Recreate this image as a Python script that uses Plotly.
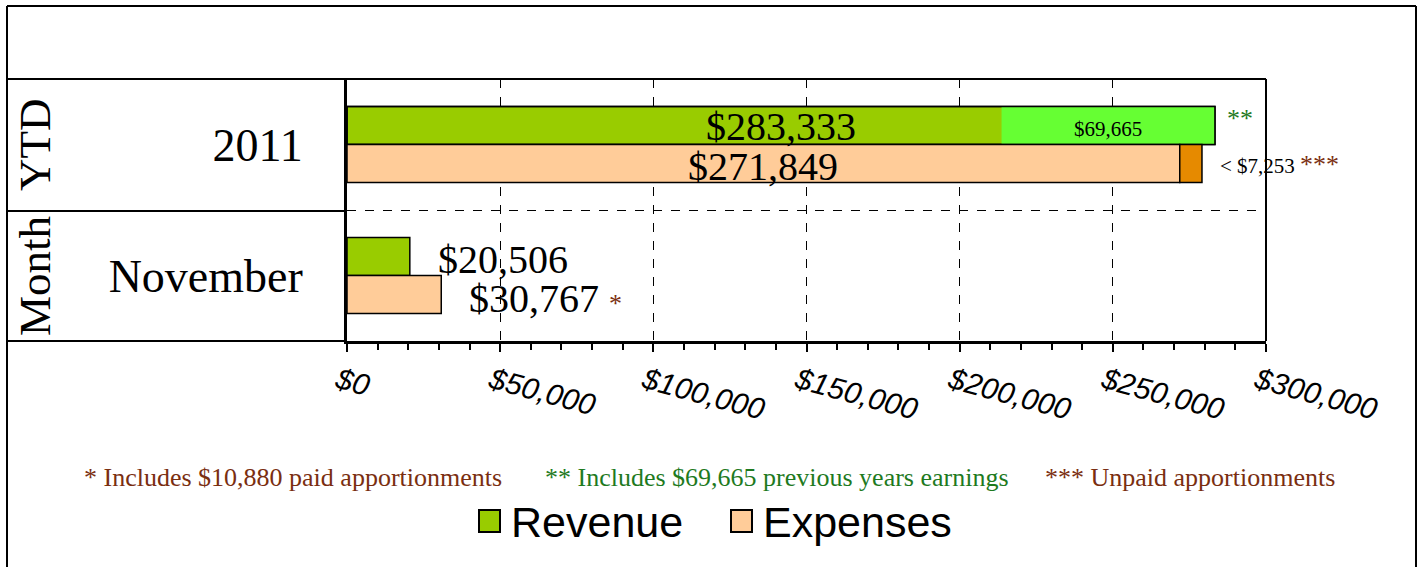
import plotly.graph_objects as go

# ---- data ----
periods = ["November", "2011"]          # y positions 0, 1
period_groups = ["Month", "YTD"]
revenue = [20506, 283333]
expenses = [30767, 271849]
prior_years_ytd = 69665
unpaid_ytd = 7253
paid_apportionments = 10880
x_ticks = [0, 50000, 100000, 150000, 200000, 250000, 300000]
x_tick_text = ["$" + f"{v:,}" for v in x_ticks]

# ---- layout geometry ----
W, H = 1422, 567
L, R, T, B = 347, 1266, 79, 341
def px_x(x):
    return (x - L) / (R - L)
def px_y(y):
    return (B - y) / (B - T)

SERIF = "Liberation Serif"
SANS = "Liberation Sans"
GREEN_D = "#99CC00"
GREEN_L = "#66FF33"
PEACH = "#FFCC99"
ORANGE = "#E68A00"
BROWN = "#7A2E10"
FGREEN = "#1E7A1E"

ypos = [0, 1]
BW = 0.29

fig = go.Figure()
fig.add_bar(y=ypos, x=revenue, base=0, orientation="h", offset=0, width=BW,
            marker=dict(color=GREEN_D, line=dict(color="black", width=1.5)),
            name="Revenue", showlegend=False)
fig.add_bar(y=[1], x=[prior_years_ytd], base=[revenue[1] - prior_years_ytd],
            orientation="h", offset=0, width=BW,
            marker=dict(color=GREEN_L, line=dict(width=0)), showlegend=False)
fig.add_bar(y=[1], x=[revenue[1]], base=0, orientation="h", offset=0, width=BW,
            marker=dict(color="rgba(0,0,0,0)", line=dict(color="black", width=1.5)),
            showlegend=False)
fig.add_bar(y=ypos, x=expenses, base=0, orientation="h", offset=-BW, width=BW,
            marker=dict(color=PEACH, line=dict(color="black", width=1.5)),
            name="Expenses", showlegend=False)
fig.add_bar(y=[1], x=[unpaid_ytd], base=[expenses[1]], orientation="h",
            offset=-BW, width=BW,
            marker=dict(color=ORANGE, line=dict(color="black", width=1.5)),
            showlegend=False)

ann = []
def money(v):
    return "$" + f"{v:,}"

MID = dict(showarrow=False, yanchor="middle")

# data labels
ann.append(dict(x=revenue[1] / 2, y=1 + BW / 2, text=money(revenue[1]), xanchor="center",
                font=dict(family=SERIF, size=40, color="black"), yshift=-1, **MID))
ann.append(dict(x=expenses[1] / 2, y=1 - BW / 2, text=money(expenses[1]), xanchor="center",
                font=dict(family=SERIF, size=40, color="black"), yshift=-3, **MID))
ann.append(dict(x=revenue[1] - prior_years_ytd / 2, y=1 + BW / 2, text=money(prior_years_ytd),
                xanchor="center", font=dict(family=SERIF, size=21, color="black"),
                yshift=-3, **MID))
ann.append(dict(x=revenue[1], y=1 + BW / 2, text="**", xanchor="left",
                xshift=10, yshift=7, font=dict(family=SERIF, size=26, color=FGREEN), **MID))
ann.append(dict(x=expenses[1] + unpaid_ytd, y=1 - BW / 2,
                text="&lt; " + money(unpaid_ytd) + f" <span style='color:{BROWN};font-size:26px'>***</span>",
                xanchor="left", xshift=16, yshift=-1,
                font=dict(family=SERIF, size=21, color="black"), **MID))
ann.append(dict(x=revenue[0], y=0 + BW / 2, text=money(revenue[0]),
                xanchor="left", xshift=26, yshift=-3,
                font=dict(family=SERIF, size=40, color="black"), **MID))
ann.append(dict(x=expenses[0], y=0 - BW / 2,
                text=money(expenses[0]) + f" <span style='color:{BROWN};font-size:26px'>*</span>",
                xanchor="left", xshift=26, yshift=-4,
                font=dict(family=SERIF, size=40, color="black"), **MID))

# group labels
for g, yc in zip(period_groups, [276, 145]):
    ann.append(dict(xref="paper", yref="paper", x=px_x(35), y=px_y(yc), text=g,
                    textangle=-90, xanchor="center",
                    font=dict(family=SERIF, size=45, color="black"), **MID))

# footnotes
notes = [
    (82, BROWN, f"* Includes {money(paid_apportionments)} paid apportionments"),
    (543, FGREEN, f"** Includes {money(prior_years_ytd)} previous years earnings"),
    (1043, BROWN, "*** Unpaid apportionments"),
]
for xp, col, txt in notes:
    ann.append(dict(xref="paper", yref="paper", x=px_x(xp), y=px_y(477), text=txt,
                    xanchor="left", font=dict(family=SERIF, size=26, color=col), **MID))

# manual legend
shapes = []
for name, col, sx in [("Revenue", GREEN_D, 479), ("Expenses", PEACH, 731)]:
    shapes.append(dict(type="rect", xref="paper", yref="paper",
                       x0=px_x(sx), x1=px_x(sx + 21), y0=px_y(532), y1=px_y(510),
                       fillcolor=col, line=dict(color="black", width=2)))
    ann.append(dict(xref="paper", yref="paper", x=px_x(sx + 30), y=px_y(522), text=name,
                    xanchor="left", font=dict(family=SANS, size=43, color="black"), **MID))

# frame lines
def pline(x0, y0, x1, y1, w=2):
    shapes.append(dict(type="line", xref="paper", yref="paper",
                       x0=px_x(x0), x1=px_x(x1), y0=px_y(y0), y1=px_y(y1),
                       line=dict(color="black", width=w)))
pline(7, 6, 1416, 6)
pline(7, 6, 7, 570)
pline(1416, 6, 1416, 570)
pline(7, 79, 1266, 79)
pline(7, 211, 347, 211)
pline(7, 341, 347, 341)
pline(1266, 79, 1266, 341)

fig.update_layout(
    width=W, height=H,
    margin=dict(l=L, r=W - R, t=T, b=H - B, autoexpand=False),
    barmode="overlay",
    paper_bgcolor="white", plot_bgcolor="white",
    showlegend=False,
    annotations=ann, shapes=shapes,
    xaxis=dict(range=[0, 300000], tickvals=x_ticks, ticktext=x_tick_text,
               tickangle=15, ticks="outside", ticklen=8, tickwidth=2, tickcolor="black",
               tickfont=dict(family=SANS, size=30, color="black", style="italic"),
               ticklabelshift=-9,
               showgrid=True, gridcolor="black", griddash="dash", gridwidth=1,
               showline=True, linecolor="black", linewidth=3, zeroline=False,
               minor=dict(dtick=10000, ticks="outside", ticklen=6, tickwidth=2,
                          tickcolor="black", showgrid=False)),
    yaxis=dict(range=[-0.5, 1.5], tickvals=ypos, ticktext=periods, ticks="",
               tickfont=dict(family=SERIF, size=46, color="black"),
               ticklabelstandoff=32,
               showgrid=False, zeroline=False,
               showline=True, linecolor="black", linewidth=3,
               minor=dict(tickvals=[0.5], showgrid=True, gridcolor="black",
                          griddash="dash", gridwidth=1, ticks="")),
)

fig.write_html("out.html", config={"displayModeBar": False},
               post_script="document.body.style.margin='0';document.body.style.padding='0';")
